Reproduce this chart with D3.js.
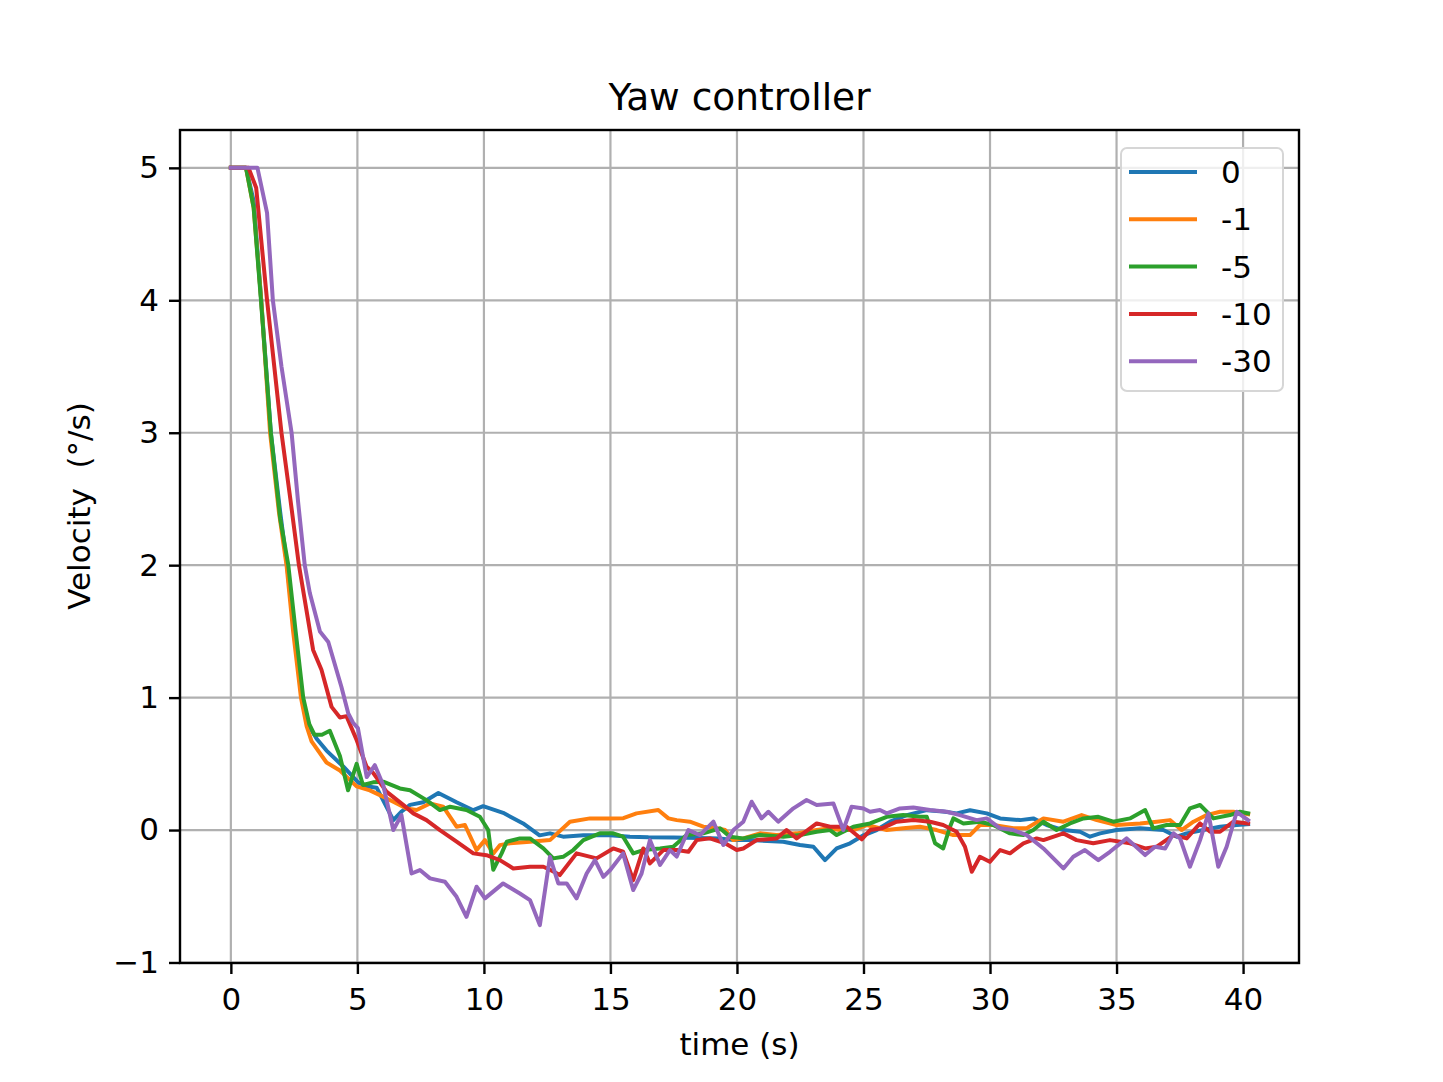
<!DOCTYPE html>
<html>
<head>
<meta charset="utf-8">
<script src="https://cdn.jsdelivr.net/npm/d3@7"></script>
<style>
  body { margin: 0; background: #fff; }
  text { font-family: "DejaVu Sans", sans-serif; fill: #000; }
</style>
</head>
<body>
<svg id="chart"></svg>
<script>
// series as [time, velocity] pairs
const gain0 = [[0,5],[0.3,5],[0.6,5],[0.9,4.75],[1.2,4.0],[1.58,3.0],[1.95,2.4],[2.22,2.0],[2.5,1.5],[2.8,1.0],[3.1,0.78],[3.39,0.69],[3.78,0.60],[4.44,0.48],[5.03,0.36],[5.36,0.33],[5.76,0.32],[6.42,0.075],[6.75,0.14],[7.08,0.19],[7.6,0.21],[8.2,0.28],[8.92,0.21],[9.58,0.15],[9.97,0.18],[10.76,0.13],[11.55,0.05],[12.2,-0.04],[12.61,-0.025],[13.13,-0.05],[13.93,-0.04],[14.98,-0.04],[15.77,-0.05],[16.5,-0.055],[17.5,-0.056],[18.5,-0.06],[19.33,-0.063],[19.86,-0.076],[20.51,-0.076],[21.83,-0.088],[22.49,-0.113],[23.02,-0.126],[23.48,-0.227],[23.94,-0.139],[24.47,-0.10],[25.0,-0.04],[25.52,0.0],[26.05,0.063],[26.71,0.113],[27.5,0.15],[28.15,0.14],[28.68,0.126],[29.21,0.15],[29.87,0.126],[30.4,0.088],[31.19,0.075],[31.71,0.088],[32.24,0.038],[32.9,0.0],[33.56,-0.013],[33.95,-0.05],[34.35,-0.025],[35.0,0.0],[35.93,0.013],[36.85,0.0],[37.38,-0.05],[37.77,-0.025],[38.43,0.0],[39.09,0.025],[39.75,0.038],[40.2,0.045]]

const gain1 = [[0,5],[0.6,5],[0.9,4.7],[1.2,4.0],[1.55,3.0],[1.9,2.4],[2.2,2.0],[2.46,1.5],[2.77,1.0],[3.0,0.78],[3.19,0.67],[3.78,0.51],[4.31,0.45],[4.97,0.33],[5.49,0.30],[5.89,0.264],[6.42,0.214],[6.94,0.163],[7.34,0.151],[7.87,0.20],[8.39,0.176],[8.92,0.025],[9.25,0.038],[9.71,-0.151],[10.04,-0.076],[10.37,-0.177],[10.63,-0.114],[11.03,-0.10],[11.82,-0.088],[12.61,-0.076],[13.4,0.063],[14.19,0.088],[14.98,0.088],[15.51,0.09],[16.03,0.126],[16.89,0.151],[17.29,0.088],[17.62,0.075],[18.14,0.063],[18.67,0.025],[19.2,0.013],[19.53,0.0],[19.86,-0.076],[20.25,-0.063],[20.91,-0.025],[21.57,-0.038],[22.36,-0.025],[23.15,0.0],[23.68,0.013],[24.07,0.0],[24.6,0.0],[25.13,0.038],[25.92,0.0],[26.57,0.013],[27.23,0.025],[27.89,0.0],[28.55,-0.038],[29.21,-0.038],[29.6,0.038],[30.13,0.038],[30.92,0.013],[31.45,0.013],[32.11,0.088],[32.9,0.063],[33.62,0.113],[34.22,0.075],[35.0,0.038],[35.93,0.05],[36.59,0.063],[37.11,0.075],[37.57,0.0],[38.04,0.063],[38.56,0.113],[39.09,0.138],[39.62,0.138],[40.2,0.12]]

const gain5 = [[0,5],[0.6,5],[0.9,4.7],[1.19,4.0],[1.58,3.0],[1.95,2.35],[2.27,2.0],[2.56,1.5],[2.86,1.0],[3.1,0.8],[3.3,0.72],[3.6,0.72],[3.91,0.75],[4.31,0.56],[4.63,0.30],[4.97,0.50],[5.22,0.34],[5.62,0.36],[6.02,0.365],[6.68,0.314],[7.08,0.30],[7.73,0.226],[8.26,0.151],[8.66,0.176],[9.31,0.151],[9.84,0.10],[10.17,0.0],[10.37,-0.30],[10.7,-0.176],[10.9,-0.088],[11.42,-0.063],[11.82,-0.063],[12.35,-0.139],[12.74,-0.214],[13.13,-0.202],[13.53,-0.151],[13.93,-0.076],[14.58,-0.025],[15.11,-0.025],[15.5,-0.05],[15.9,-0.176],[16.3,-0.151],[16.96,-0.139],[17.48,-0.126],[18.01,-0.038],[18.67,-0.025],[19.33,0.013],[19.72,-0.05],[20.25,-0.063],[20.91,-0.038],[21.83,-0.05],[22.49,-0.038],[23.15,-0.013],[23.68,0.0],[23.94,-0.038],[24.6,0.025],[25.26,0.05],[25.92,0.10],[26.57,0.113],[27.23,0.10],[27.5,0.10],[27.83,-0.10],[28.15,-0.139],[28.42,0.025],[28.55,0.088],[28.95,0.05],[29.6,0.063],[30.13,0.038],[30.79,-0.025],[31.32,-0.038],[31.71,0.0],[32.11,0.063],[32.63,0.0],[33.16,0.05],[33.69,0.088],[34.28,0.10],[34.87,0.063],[35.53,0.088],[36.13,0.151],[36.45,0.013],[36.98,0.038],[37.51,0.038],[37.9,0.164],[38.3,0.189],[38.83,0.088],[39.48,0.113],[39.88,0.138],[40.2,0.126]]

const gain10 = [[0,5],[0.7,5],[1.0,4.85],[1.43,4.0],[2.0,3.0],[2.35,2.5],[2.69,2.0],[3.25,1.36],[3.58,1.21],[3.98,0.93],[4.31,0.85],[4.57,0.86],[4.97,0.68],[5.36,0.48],[5.63,0.43],[6.0,0.33],[6.15,0.29],[6.81,0.19],[7.21,0.126],[7.73,0.075],[8.26,0.0],[8.92,-0.088],[9.58,-0.176],[10.1,-0.19],[10.63,-0.227],[11.16,-0.29],[11.82,-0.277],[12.35,-0.277],[12.61,-0.30],[13.0,-0.34],[13.66,-0.176],[14.45,-0.214],[15.11,-0.139],[15.5,-0.164],[15.9,-0.378],[16.3,-0.139],[16.56,-0.252],[17.09,-0.151],[17.62,-0.151],[18.08,-0.164],[18.41,-0.076],[18.93,-0.063],[19.53,-0.10],[19.99,-0.151],[20.25,-0.139],[20.78,-0.076],[21.57,-0.063],[21.96,0.0],[22.36,-0.063],[23.15,0.05],[23.68,0.025],[24.33,0.025],[24.93,-0.07],[25.26,0.0],[25.72,0.013],[26.31,0.063],[26.97,0.075],[27.63,0.063],[28.15,0.038],[28.68,-0.013],[29.01,-0.126],[29.28,-0.315],[29.6,-0.202],[29.99,-0.24],[30.4,-0.151],[30.79,-0.176],[31.32,-0.10],[31.84,-0.063],[32.11,-0.076],[32.9,-0.025],[33.42,-0.076],[34.08,-0.10],[34.74,-0.076],[35.53,-0.10],[36.13,-0.139],[36.59,-0.126],[37.25,-0.038],[37.77,-0.063],[38.3,0.05],[38.7,-0.013],[39.09,-0.013],[39.62,0.063],[40.2,0.05]]

const gain30 = [[0,5],[1.05,5],[1.43,4.66],[1.66,4.0],[2.0,3.5],[2.4,3.0],[2.65,2.49],[2.92,2.0],[3.12,1.79],[3.52,1.50],[3.85,1.42],[4.37,1.08],[4.64,0.88],[4.83,0.81],[5.02,0.77],[5.37,0.40],[5.69,0.49],[6.02,0.34],[6.42,0.0],[6.74,0.113],[7.14,-0.328],[7.47,-0.302],[7.87,-0.365],[8.46,-0.39],[8.92,-0.504],[9.31,-0.655],[9.71,-0.428],[10.04,-0.516],[10.76,-0.403],[11.42,-0.479],[11.82,-0.529],[12.21,-0.718],[12.61,-0.202],[12.94,-0.403],[13.27,-0.403],[13.66,-0.516],[14.06,-0.328],[14.39,-0.227],[14.72,-0.353],[15.0,-0.30],[15.5,-0.176],[15.9,-0.453],[16.23,-0.328],[16.56,-0.076],[16.96,-0.264],[17.35,-0.151],[17.62,-0.2],[18.08,0.0],[18.54,-0.038],[19.07,0.063],[19.46,-0.113],[19.86,0.0],[20.25,0.063],[20.58,0.214],[20.97,0.088],[21.24,0.138],[21.63,0.063],[22.23,0.164],[22.75,0.227],[23.15,0.189],[23.81,0.201],[24.2,0.0],[24.53,0.176],[25.0,0.163],[25.26,0.138],[25.65,0.151],[25.92,0.126],[26.44,0.163],[26.97,0.17],[27.63,0.151],[28.29,0.138],[28.81,0.113],[29.47,0.075],[29.87,0.088],[30.4,0.013],[30.92,0.0],[31.45,-0.038],[32.11,-0.139],[32.9,-0.29],[33.29,-0.202],[33.75,-0.151],[34.28,-0.227],[34.74,-0.164],[35.4,-0.063],[36.13,-0.189],[36.52,-0.126],[36.92,-0.139],[37.25,-0.025],[37.51,-0.063],[37.9,-0.277],[38.3,-0.076],[38.63,0.126],[39.02,-0.277],[39.35,-0.126],[39.75,0.138],[40.2,0.075]]

const labels = ["0", "-1", "-5", "-10", "-30"]
const colors = ["#1f77b4", "#ff7f0e", "#2ca02c", "#d62728", "#9467bd"]
const xTicks = [0, 5, 10, 15, 20, 25, 30, 35, 40]
const yTicks = [-1, 0, 1, 2, 3, 4, 5]

const series = [gain0, gain1, gain5, gain10, gain30].map((pts, i) => ({
    label: labels[i], color: colors[i], pts: pts
}))

const width = 1443
const height = 1082
// matplotlib default subplot box
const box = { left: 180, right: 1299, top: 130, bottom: 963 }
const fontSize = 31

const svg = d3.select("#chart")
        .attr("width", width)
        .attr("height", height)

// 5% margins around the data like matplotlib
const allPts = series.flatMap(s => s.pts)
const tExt = d3.extent(allPts, d => d[0])
const vExt = d3.extent(allPts, d => d[1])
const tPad = (tExt[1] - tExt[0]) * 0.05
const vPad = (vExt[1] - vExt[0]) * 0.05

const x = d3.scaleLinear()
        .domain([tExt[0] - tPad, tExt[1] + tPad])
        .range([box.left, box.right])
const y = d3.scaleLinear()
        .domain([vExt[0] - vPad, vExt[1] + vPad])
        .range([box.bottom, box.top])

// grid
const grid = svg.append("g").attr("class", "grid")
grid.selectAll(".gx")
    .data(xTicks)
    .enter().append("line")
    .attr("x1", d => x(d)).attr("x2", d => x(d))
    .attr("y1", box.top).attr("y2", box.bottom)
    .attr("stroke", "#b0b0b0")
    .attr("stroke-width", 2.2)
grid.selectAll(".gy")
    .data(yTicks)
    .enter().append("line")
    .attr("y1", d => y(d)).attr("y2", d => y(d))
    .attr("x1", box.left).attr("x2", box.right)
    .attr("stroke", "#b0b0b0")
    .attr("stroke-width", 2.2)

// lines
const line = d3.line()
        .x(d => x(d[0]))
        .y(d => y(d[1]))

svg.append("g")
    .selectAll("path")
    .data(series)
    .enter().append("path")
    .attr("d", d => line(d.pts))
    .attr("fill", "none")
    .attr("stroke", d => d.color)
    .attr("stroke-width", 4)
    .attr("stroke-linejoin", "round")
    .attr("stroke-linecap", "square")

// axes
const xAxis = d3.axisBottom(x)
        .tickValues(xTicks)
        .tickSize(11)
        .tickPadding(14)
const yAxis = d3.axisLeft(y)
        .tickValues(yTicks)
        .tickSize(11)
        .tickPadding(10)
        .tickFormat(d => d < 0 ? "\u2212" + Math.abs(d) : d)

const gx = svg.append("g")
        .attr("transform", `translate(0, ${box.bottom})`)
        .call(xAxis)
const gy = svg.append("g")
        .attr("transform", `translate(${box.left}, 0)`)
        .call(yAxis)

gx.select(".domain").remove()
gy.select(".domain").remove()
svg.selectAll(".tick line").attr("stroke", "#000").attr("stroke-width", 2.4)
svg.selectAll(".tick text")
    .style("font-family", "DejaVu Sans")
    .style("font-size", fontSize + "px")
    .attr("fill", "#000")

// frame
svg.append("rect")
    .attr("x", box.left).attr("y", box.top)
    .attr("width", box.right - box.left).attr("height", box.bottom - box.top)
    .attr("fill", "none")
    .attr("stroke", "#000")
    .attr("stroke-width", 2.4)

// title and axis labels
svg.append("text")
    .attr("x", (box.left + box.right) / 2)
    .attr("y", 110)
    .attr("text-anchor", "middle")
    .style("font-size", "37.5px")
    .text("Yaw controller")

svg.append("text")
    .attr("x", (box.left + box.right) / 2)
    .attr("y", 1055)
    .attr("text-anchor", "middle")
    .style("font-size", fontSize + "px")
    .text("time (s)")

svg.append("text")
    .attr("transform", "translate(90, 506) rotate(-90)")
    .attr("text-anchor", "middle")
    .style("font-size", fontSize + "px")
    .style("white-space", "pre")
    .text("Velocity  (°/s)")

// legend
const legend = svg.append("g")
        .attr("class", "legend")
        .attr("transform", "translate(1121, 148)")

legend.append("rect")
    .attr("width", 162)
    .attr("height", 243)
    .attr("rx", 6)
    .attr("fill", "#fff")
    .attr("fill-opacity", 0.8)
    .attr("stroke", "#d6d6d6")
    .attr("stroke-width", 2)

const legendItems = legend.selectAll(".legend-item")
        .data(series)
        .enter().append("g")
        .attr("class", "legend-item")
        .attr("transform", (d, i) => `translate(0, ${24 + i * 47.3})`)

legendItems.append("line")
    .attr("x1", 8)
    .attr("x2", 76)
    .attr("stroke", d => d.color)
    .attr("stroke-width", 4)

legendItems.append("text")
    .attr("x", 100)
    .attr("y", 11)
    .style("font-size", fontSize + "px")
    .text(d => d.label)
</script>
</body>
</html>
